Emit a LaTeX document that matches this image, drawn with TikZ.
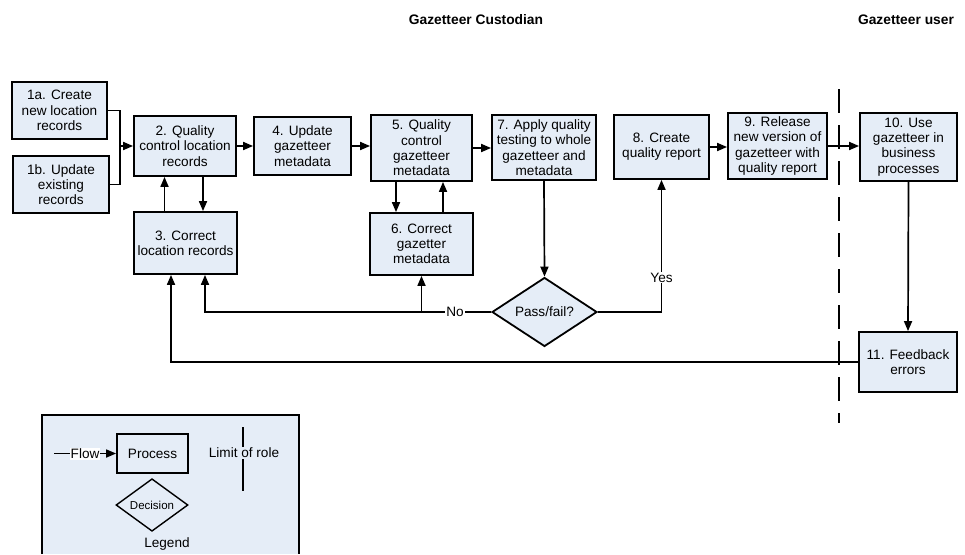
\documentclass[tikz,border=0pt]{standalone}
\usepackage{fontspec}
\setmainfont{Liberation Sans}
\usepackage{tikz}
\usetikzlibrary{arrows.meta, shapes.geometric}
\definecolor{BoxBlue}{rgb}{0.90,0.93,0.97}
\definecolor{LegendBlue}{rgb}{0.90,0.93,0.97}

\begin{document}
\begin{tikzpicture}[x=1pt, y=-1pt,
		every node/.style={font=\fontsize{13.6}{15.3}\selectfont},
		proc/.style 2 args={draw, line width=1.8pt, fill=BoxBlue, align=center, inner sep=0pt, minimum width=#1, minimum height=#2},
		decide/.style={draw, diamond, fill=BoxBlue, inner sep=0pt},
		flow/.style={line width=1.7pt, -{Triangle[length=10pt, width=8pt]}},
		link/.style={line width=1.7pt},
		tag/.style={fill=white, inner sep=1pt}]
		\useasboundingbox (0,0) rectangle (965,554);
		
		% roles
		\node[font=\fontsize{13.8}{15}\selectfont\bfseries] (custodian) at (476,20) {Gazetteer Custodian};
		\node[font=\fontsize{13.8}{15}\selectfont\bfseries] (user) at (906,20) {Gazetteer user};
		\draw[line width=1.8pt, dash pattern=on 24pt off 12pt] (839,89) -- (839,423);
		
		% legend background
		\fill[LegendBlue] (42,415) rectangle (299,554);
		\draw[line width=1.2pt] (42,554) -- (42,415) -- (299,415) -- (299,554);
		
		% process steps
		\node[proc={95pt}{57pt}] (create) at (59.5,110.5) {1a. Create\\new location\\records};
		\node[proc={96pt}{57pt}] (update) at (61,184.5) {1b. Update\\existing\\records};
		\node[proc={102pt}{60pt}] (qcloc) at (185,146) {2. Quality\\control location\\records};
		\node[proc={103pt}{62pt}] (correct) at (185.5,243) {3. Correct\\location records};
		\node[proc={97pt}{58pt}] (meta) at (302.5,146) {4. Update\\gazetteer\\metadata};
		\node[proc={101pt}{66pt}] (qcmeta) at (421.5,148) {5. Quality\\control\\gazetteer\\metadata};
		\node[proc={103pt}{62pt}] (fixmeta) at (421.5,244) {6. Correct\\gazetter\\metadata};
		\node[proc={104pt}{65pt}] (testall) at (544,147.5) {7. Apply quality\\testing to whole\\gazetteer and\\metadata};
		\node[proc={95pt}{64pt}] (report) at (661.5,147) {8. Create\\quality report};
		\node[proc={99pt}{66pt}] (release) at (777.5,146) {9. Release\\new version of\\gazetteer with\\quality report};
		\node[proc={97pt}{68pt}] (use) at (908.5,147) {10. Use\\gazetteer in\\business\\processes};
		\node[proc={98pt}{60pt}] (feedback) at (908,362) {11. Feedback\\errors};
		\node[decide, line width=1.8pt, minimum width=105pt, minimum height=58pt] (passfail) at (544.5,312) {Pass/fail?};
		
		% flows
		\coordinate (join) at (120,146);
		\draw[link] (create.east) -| (join);
		\draw[link] (update.east) -| (join);
		\draw[flow] (join) -- (qcloc.west);
		\draw[flow] ([xshift=18pt]qcloc.south) -- ([xshift=18pt]qcloc.south |- correct.north);
		\draw[flow] ([xshift=-21pt]correct.north) -- ([xshift=-21pt]correct.north |- qcloc.south);
		\draw[flow] (qcloc.east) -- (meta.west);
		\draw[flow] (meta.east) -- (meta.east -| qcmeta.west);
		\draw[flow] ([xshift=-25.5pt]qcmeta.south) -- ([xshift=-25.5pt]qcmeta.south |- fixmeta.north);
		\draw[flow] ([xshift=21.5pt]fixmeta.north) -- ([xshift=21.5pt]fixmeta.north |- qcmeta.south);
		\draw[flow] (qcmeta.east) -- (qcmeta.east -| testall.west);
		\draw[flow] (testall.south) -- (passfail.north);
		\draw[flow] (passfail.east) -| node[tag, pos=0.63] {Yes} (report.south);
		\draw[flow] (passfail.west) -| node[tag, pos=0.063] {No} ([xshift=19.5pt]correct.south);
		\draw[flow] (fixmeta.south |- passfail.west) -- (fixmeta.south);
		\draw[flow] (report.east) -- (report.east -| release.west);
		\draw[flow] (release.east) -- (release.east -| use.west);
		\draw[flow] (use.south) -- (feedback.north);
		\draw[flow] (feedback.west) -| ([xshift=-14.5pt]correct.south);
		
		% legend
		\node[draw, line width=1.8pt, fill=LegendBlue, inner sep=0pt, minimum width=71pt, minimum height=39pt] (process) at (152.5,453.5) {Process};
		\coordinate (flowstart) at (54,453.5);
		\draw[flow] (flowstart) -- node[tag] {Flow} (process.west);
		\draw[line width=1.8pt] (243,427) -- (243,491);
		\node[fill=LegendBlue, inner sep=1pt] (role) at (244,453) {Limit of role};
		\node[decide, line width=1.4pt, fill=LegendBlue, minimum width=72pt, minimum height=40pt, font=\fontsize{11.5}{13}\selectfont] (decision) at (152,505) {Decision};
		\node (legend) at (167,544) {Legend};
	\end{tikzpicture}
\end{document}
